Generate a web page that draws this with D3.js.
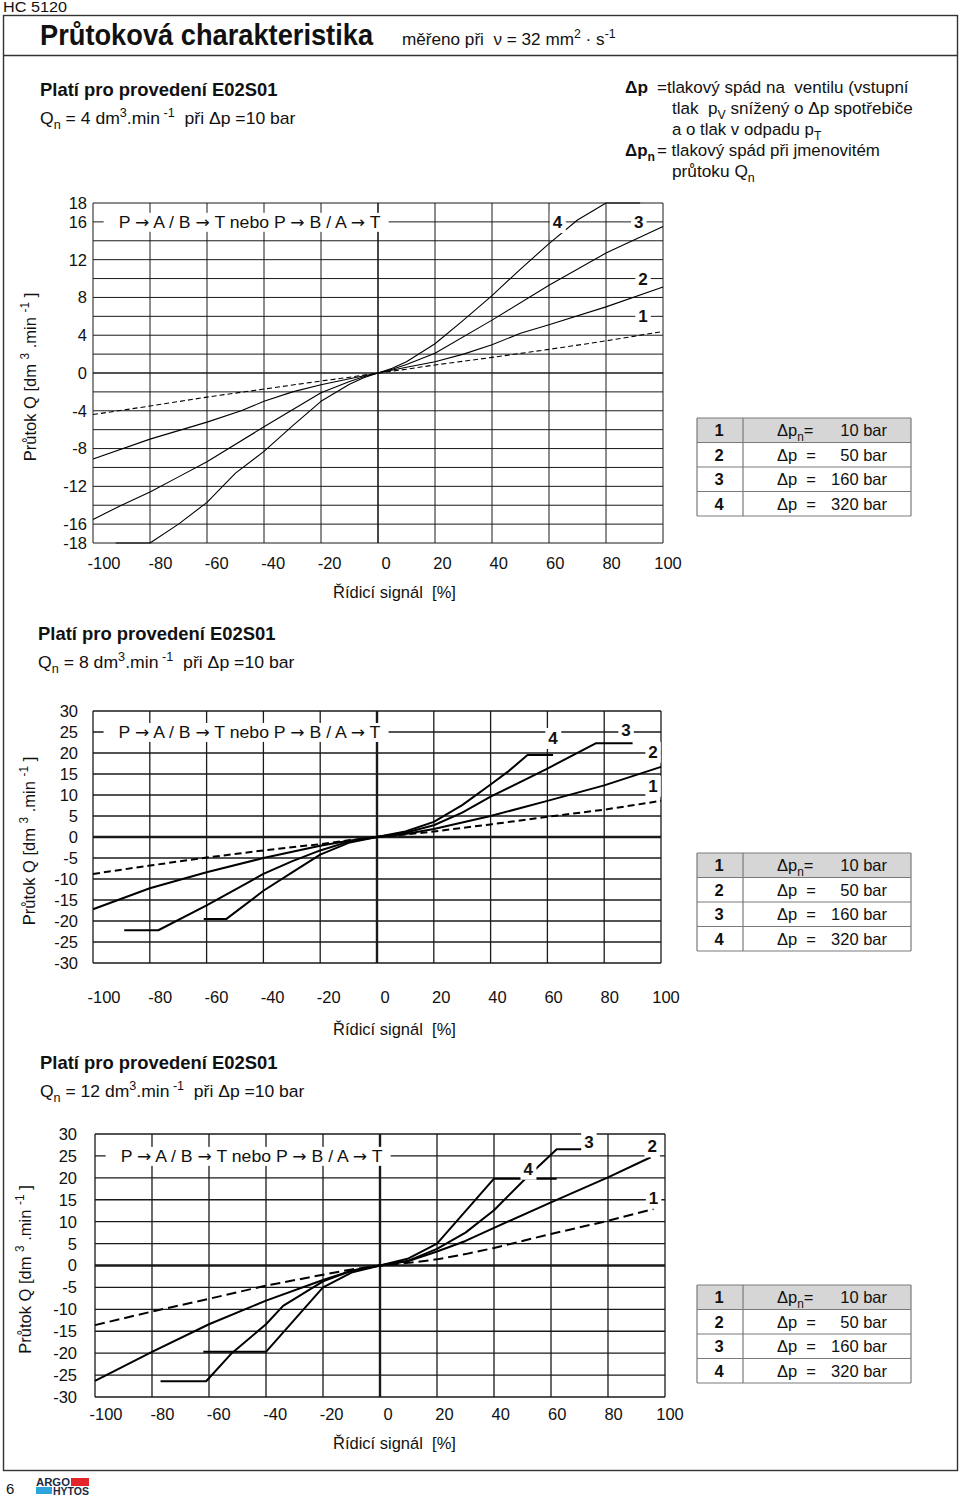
<!DOCTYPE html>
<html><head><meta charset="utf-8">
<script src="https://cdn.jsdelivr.net/npm/d3@7"></script>
<style>body{margin:0;background:#fff} svg{display:block} text{white-space:pre}</style>
</head><body><svg id="c" width="960" height="1501"></svg>
<script>
// ---------------- DATA ----------------
const signalTicks = [-100,-80,-60,-40,-20,0,20,40,60,80,100];
const chart1FlowTicks = [18,16,12,8,4,0,-4,-8,-12,-16,-18];
const chart23FlowTicks = [30,25,20,15,10,5,0,-5,-10,-15,-20,-25,-30];
const curveIds = ["1","2","3","4"];
const legendSymbols = ["Δp","Δp","Δp","Δp"];
const legendValues = ["10 bar","50 bar","160 bar","320 bar"];
const nominalFlows = ["4","8","12"];

// chart 1 (Qn = 4)   [signal %, flow dm3/min]
const c1_dp10  = [[-100,-4.4],[-80,-3.5],[-60,-2.55],[-40,-1.7],[-20,-0.85],[-10,-0.45],[0,0],[10,0.4],[20,0.85],[40,1.65],[60,2.5],[80,3.4],[100,4.4]];
const c1_dp50  = [[-100,-9.1],[-80,-7.0],[-60,-5.2],[-48,-4.0],[-40,-3.0],[-30,-2.0],[-20,-1.25],[-10,-0.6],[0,0],[10,0.6],[20,1.2],[30,2.0],[40,3.0],[50,4.2],[60,5.1],[80,7.0],[100,9.1]];
const c1_dp160 = [[-100,-15.5],[-90,-14.0],[-80,-12.6],[-70,-11.0],[-60,-9.4],[-40,-5.7],[-20,-2.1],[-10,-0.9],[-5,-0.4],[0,0],[5,0.4],[10,0.9],[20,2.1],[40,5.6],[60,9.3],[80,12.7],[100,15.5]];
const c1_dp320 = [[-92,-18],[-80,-18],[-70,-16.0],[-60,-13.7],[-50,-10.6],[-40,-8.3],[-30,-5.6],[-20,-3.0],[-10,-1.2],[-5,-0.5],[0,0],[5,0.5],[10,1.2],[20,3.1],[30,5.6],[40,8.2],[50,11.0],[60,13.7],[70,16.2],[80,18],[92,18]];

// chart 2 (Qn = 8)
const c2_dp10  = [[-100,-8.8],[-80,-6.8],[-60,-4.9],[-40,-3.2],[-20,-1.7],[-10,-0.8],[0,0],[10,0.6],[20,1.3],[40,3.0],[60,4.8],[80,6.5],[100,8.6]];
const c2_dp50  = [[-100,-17.2],[-80,-12.2],[-60,-8.4],[-40,-5.0],[-20,-2.1],[-10,-0.9],[0,0],[10,0.7],[20,1.9],[40,5.0],[60,8.6],[80,12.3],[100,16.7]];
const c2_dp160 = [[-89,-22.2],[-77,-22.2],[-60,-16.3],[-40,-8.8],[-30,-5.8],[-20,-3.2],[-10,-1.1],[0,0],[10,1.0],[20,2.8],[30,5.8],[40,9.6],[60,16.3],[77,22.3],[90,22.3]];
const c2_dp320 = [[-61,-19.5],[-53,-19.5],[-40,-12.8],[-30,-8.5],[-20,-4.2],[-10,-1.4],[0,0],[10,1.3],[20,3.6],[30,7.6],[40,12.5],[46,15.5],[53,19.5],[62,19.5]];

// chart 3 (Qn = 12)
const c3_dp10  = [[-100,-13.6],[-80,-10.5],[-60,-7.6],[-40,-4.6],[-20,-2.1],[-10,-0.9],[0,0],[10,0.6],[20,1.4],[30,2.6],[40,4.0],[60,7.2],[80,10.2],[96,12.9]];
const c3_dp50  = [[-100,-26.3],[-80,-19.7],[-60,-13.4],[-40,-8.0],[-20,-3.3],[-10,-1.2],[0,0],[10,1.0],[20,3.2],[30,5.6],[40,8.6],[60,14.4],[80,20.1],[95,24.7]];
const c3_dp160 = [[-77,-26.4],[-61,-26.4],[-52,-20],[-40,-13.4],[-34,-9.2],[-20,-3.6],[-10,-1.2],[0,0],[10,1.1],[20,3.8],[30,7.5],[40,12.6],[51,19.8],[62,26.5],[72,26.5]];
const c3_dp320 = [[-62,-19.7],[-40,-19.7],[-20,-5.0],[-10,-1.6],[0,0],[10,1.6],[20,5.0],[40,19.8],[62,19.8]];

// ---------------- DRAWING ----------------
const svg = d3.select('#c');
const SANS = "'Liberation Sans', Arial, Helvetica, sans-serif";
const ARROWF = "'DejaVu Sans', sans-serif";
const INK = '#111';

// squeeze a start-anchored text horizontally to a target width (condensed face emulation)
function fit(t, x, w) {
  const bw = t.node().getBBox().width;
  const k = w / bw;
  t.attr('transform', `translate(${x},0) scale(${k},1) translate(${-x},0)`);
  return t;
}

function rich(g, x, y, parts, opt) {
  opt = opt || {};
  const size = opt.size || 16;
  const t = g.append('text').attr('x', x).attr('y', y)
    .attr('font-family', opt.family || SANS).attr('font-size', size)
    .attr('fill', INK);
  if (opt.anchor) t.attr('text-anchor', opt.anchor);
  if (opt.weight) t.attr('font-weight', opt.weight);
  let shift = 0;
  parts.forEach(p => {
    const [txt, kind, bold] = typeof p === 'string' ? [p, null, false] : p;
    const target = kind === 'sup' ? -0.42 * size : kind === 'sub' ? 0.28 * size : 0;
    const ts = t.append('tspan').attr('dy', target - shift).text(txt);
    if (kind) ts.attr('font-size', size * 0.72);
    if (bold) ts.attr('font-weight', 'bold');
    shift = target;
  });
  if (opt.width) fit(t, x, opt.width);
  return t;
}

// page frame
svg.append('rect').attr('x', 3.5).attr('y', 15.5).attr('width', 954).attr('height', 1455)
  .attr('fill', 'none').attr('stroke', '#333').attr('stroke-width', 1.4);
svg.append('line').attr('x1', 3.5).attr('x2', 957.5).attr('y1', 55.5).attr('y2', 55.5)
  .attr('stroke', '#333').attr('stroke-width', 1.4);
rich(svg, 3, 12, ['HC 5120'], {size: 15, width: 64});
rich(svg, 40, 45, ['Průtoková charakteristika'], {size: 29, weight: 'bold', width: 334});
rich(svg, 402, 45, ['měřeno při  ν = 32 mm', ['2', 'sup'], ' · s', ['-1', 'sup']], {size: 17, width: 214});

// right explanation block
rich(svg, 625, 93, [['Δp', null, true]], {size: 17, width: 23});
rich(svg, 657, 93, ['=tlakový spád na  ventilu (vstupní'], {size: 17, width: 252});
rich(svg, 672, 114, ['tlak  p', ['V', 'sub'], ' snížený o Δp spotřebiče'], {size: 17, width: 241});
rich(svg, 672, 135, ['a o tlak v odpadu p', ['T', 'sub']], {size: 17, width: 150});
rich(svg, 625, 156, [['Δp', null, true], ['n', 'sub', true]], {size: 17, width: 30});
rich(svg, 657, 156, ['= tlakový spád při jmenovitém'], {size: 17, width: 223});
rich(svg, 672, 177, ['průtoku Q', ['n', 'sub']], {size: 17, width: 83});

// footer
svg.append('text').attr('x', 6).attr('y', 1494).attr('font-family', SANS).attr('font-size', 15).attr('fill', INK).text('6');
svg.append('text').attr('x', 36).attr('y', 1486).attr('font-family', SANS).attr('font-size', 10.5)
  .attr('font-weight', 'bold').attr('fill', '#1a2a44').attr('textLength', 34).attr('lengthAdjust', 'spacingAndGlyphs').text('ARGO');
svg.append('rect').attr('x', 71).attr('y', 1478).attr('width', 18).attr('height', 8).attr('fill', '#e3242b');
svg.append('rect').attr('x', 36).attr('y', 1487).attr('width', 16).attr('height', 7).attr('fill', '#2fa3dc');
svg.append('text').attr('x', 53).attr('y', 1494.5).attr('font-family', SANS).attr('font-size', 10)
  .attr('font-weight', 'bold').attr('fill', '#1a2a44').attr('textLength', 36).attr('lengthAdjust', 'spacingAndGlyphs').text('HYTOS');

function labelBox(g, txt, cx, cy) {
  const t = g.append('text').attr('x', cx).attr('y', cy).attr('dy', '0.36em')
    .attr('text-anchor', 'middle')
    .attr('font-family', SANS).attr('font-size', 17)
    .attr('font-weight', 'bold').attr('fill', INK).text(txt);
  const b = t.node().getBBox();
  g.insert('rect', () => t.node())
    .attr('x', b.x - 3).attr('y', b.y - 1)
    .attr('width', b.width + 6).attr('height', b.height + 2)
    .attr('fill', '#fff');
  return t;
}

function drawChart(cfg) {
  const g = svg.append('g');
  const x = d3.scaleLinear().domain([-100, 100]).range([cfg.left, cfg.right]);
  const xl = d3.scaleLinear().domain([-100, 100]).range([cfg.left + 11, cfg.right + 5]);
  const y = d3.scaleLinear().domain(cfg.yDomain).range([cfg.bottom, cfg.top]);

  // header
  rich(g, cfg.headX, cfg.headY, ['Platí pro provedení E02S01'], {size: 19, weight: 'bold', width: 238});
  rich(g, cfg.headX, cfg.headY + 28,
    ['Q', ['n', 'sub'], ' = ' + cfg.qn + ' dm', ['3', 'sup'], '.min', [' -1', 'sup'], '  při Δp =10 bar'],
    {size: 17, width: cfg.qnW});

  // grid
  const hLines = d3.range(cfg.yDomain[0], cfg.yDomain[1] + 0.001, cfg.gridStep);
  g.append('g').selectAll('line').data(hLines).join('line')
    .attr('x1', cfg.left).attr('x2', cfg.right)
    .attr('y1', d => y(d)).attr('y2', d => y(d))
    .attr('stroke', '#1a1a1a').attr('stroke-width', d => d === 0 ? cfg.zeroW : cfg.gridW);
  g.append('g').selectAll('line').data(signalTicks).join('line')
    .attr('x1', d => x(d)).attr('x2', d => x(d))
    .attr('y1', cfg.top).attr('y2', cfg.bottom)
    .attr('stroke', '#1a1a1a').attr('stroke-width', d => d === 0 ? cfg.zeroW : cfg.gridW);

  // tick labels
  g.append('g').selectAll('text').data(cfg.yTicks).join('text')
    .attr('x', cfg.yLabelX).attr('y', d => y(d)).attr('dy', '0.36em')
    .attr('text-anchor', 'end').attr('font-family', SANS).attr('font-size', 16.5).attr('fill', INK)
    .text(d => d);
  g.append('g').selectAll('text').data(signalTicks).join('text')
    .attr('x', d => xl(d)).attr('y', cfg.xLabelY).attr('dy', '0.36em')
    .attr('text-anchor', 'middle').attr('font-family', SANS).attr('font-size', 16.5).attr('fill', INK)
    .text(d => d);

  // axis titles
  rich(g, 333, cfg.xTitleY + 6, ['Řídicí signál  [%]'], {size: 17, width: 123});
  const yt = rich(g, 0, 0, ['Průtok Q [dm ', ['3', 'sup'], ' .min ', ['-1', 'sup'], ' ]'],
    {size: 16.5, anchor: 'middle'});
  yt.attr('transform', `translate(${cfg.yTitleX},${(cfg.top + cfg.bottom) / 2 + 4}) rotate(-90)`);

  // flow path label
  const px = x(cfg.pathLabel[0]);
  const lt = g.append('text').attr('x', px).attr('y', y(cfg.pathLabel[1])).attr('dy', '0.36em')
    .attr('font-family', SANS).attr('font-size', 16.5).attr('fill', INK);
  ['P ', ['→'], ' A / B ', ['→'], ' T nebo P ', ['→'], ' B / A ', ['→'], ' T'].forEach(p => {
    const ts = lt.append('tspan');
    if (Array.isArray(p)) ts.attr('font-family', ARROWF).attr('font-size', 16).text(p[0]);
    else ts.text(p);
  });
  const lb0 = lt.node().getBBox();
  g.insert('rect', () => lt.node()).attr('x', px - 15).attr('y', lb0.y).attr('width', 262 + 23)
    .attr('height', lb0.height).attr('fill', '#fff');
  fit(lt, px, 262);

  // curves
  const line = d3.line().x(d => x(d[0])).y(d => y(d[1])).curve(d3.curveLinear);
  const cg = g.append('g');
  cfg.curves.forEach((c, i) => {
    cg.append('path').attr('d', line(c)).attr('fill', 'none').attr('stroke', '#000')
      .attr('stroke-width', cfg.curveW).attr('stroke-linejoin', 'round')
      .attr('stroke-dasharray', i === 0 ? cfg.dash : null);
  });

  // curve labels
  cfg.labels.forEach((p, i) => labelBox(g, curveIds[i], x(p[0]), y(p[1])));

  // legend table
  const T = {x0: 697, x1: 743, x2: 911, top: cfg.tableTop, rh: 24.5};
  const tg = g.append('g');
  tg.append('rect').attr('x', T.x0).attr('y', T.top).attr('width', T.x2 - T.x0).attr('height', T.rh)
    .attr('fill', '#d6d6d6');
  tg.selectAll('line.r').data(d3.range(5)).join('line')
    .attr('x1', T.x0).attr('x2', T.x2).attr('y1', d => T.top + d * T.rh).attr('y2', d => T.top + d * T.rh)
    .attr('stroke', '#7a7a7a').attr('stroke-width', 1.2);
  [T.x0, T.x1, T.x2].forEach(xx => tg.append('line').attr('x1', xx).attr('x2', xx)
    .attr('y1', T.top).attr('y2', T.top + 4 * T.rh).attr('stroke', '#7a7a7a').attr('stroke-width', 1.2));
  curveIds.forEach((id, i) => {
    const cy = T.top + (i + 0.5) * T.rh + 6;
    tg.append('text').attr('x', 719).attr('y', cy).attr('text-anchor', 'middle')
      .attr('font-family', SANS).attr('font-size', 16.5).attr('font-weight', 'bold').attr('fill', INK).text(id);
    if (i === 0) {
      rich(tg, 777, cy, [legendSymbols[i], ['n', 'sub'], '='], {size: 16.5});
    } else {
      rich(tg, 777, cy, [legendSymbols[i] + '  ='], {size: 16.5});
    }
    tg.append('text').attr('x', 887).attr('y', cy).attr('text-anchor', 'end')
      .attr('font-family', SANS).attr('font-size', 16.5).attr('fill', INK).text(legendValues[i]);
  });
}

drawChart({
  qn: nominalFlows[0], headX: 40, headY: 96, qnW: 256,
  left: 93, right: 663, top: 203, bottom: 543, yDomain: [-18, 18], gridStep: 2,
  yTicks: chart1FlowTicks, yLabelX: 87, xLabelY: 563, xTitleY: 592, yTitleX: 36,
  gridW: 1, zeroW: 1.6, curveW: 1.1, dash: '5,3',
  curves: [c1_dp10, c1_dp50, c1_dp160, c1_dp320],
  labels: [[93, 6], [93, 10], [91.5, 16], [63, 16]],
  pathLabel: [-91, 16], tableTop: 418
});
drawChart({
  qn: nominalFlows[1], headX: 38, headY: 640, qnW: 257,
  left: 93, right: 661, top: 711, bottom: 963, yDomain: [-30, 30], gridStep: 5,
  yTicks: chart23FlowTicks, yLabelX: 78, xLabelY: 997, xTitleY: 1029, yTitleX: 35,
  gridW: 1.3, zeroW: 2.4, curveW: 2, dash: '7,4',
  curves: [c2_dp10, c2_dp50, c2_dp160, c2_dp320],
  labels: [[97.2, 12.2], [97.2, 20.3], [87.7, 25.5], [62, 23.6]],
  pathLabel: [-91, 25], tableTop: 853
});
drawChart({
  qn: nominalFlows[2], headX: 40, headY: 1069, qnW: 265,
  left: 95, right: 665, top: 1134, bottom: 1397, yDomain: [-30, 30], gridStep: 5,
  yTicks: chart23FlowTicks, yLabelX: 77, xLabelY: 1414, xTitleY: 1443, yTitleX: 31,
  gridW: 1.3, zeroW: 2.4, curveW: 2, dash: '10,5',
  curves: [c3_dp10, c3_dp50, c3_dp160, c3_dp320],
  labels: [[96, 15.5], [95.5, 27.2], [73.3, 28.3], [52, 22.1]],
  pathLabel: [-91, 25], tableTop: 1285
});
</script></body></html>
